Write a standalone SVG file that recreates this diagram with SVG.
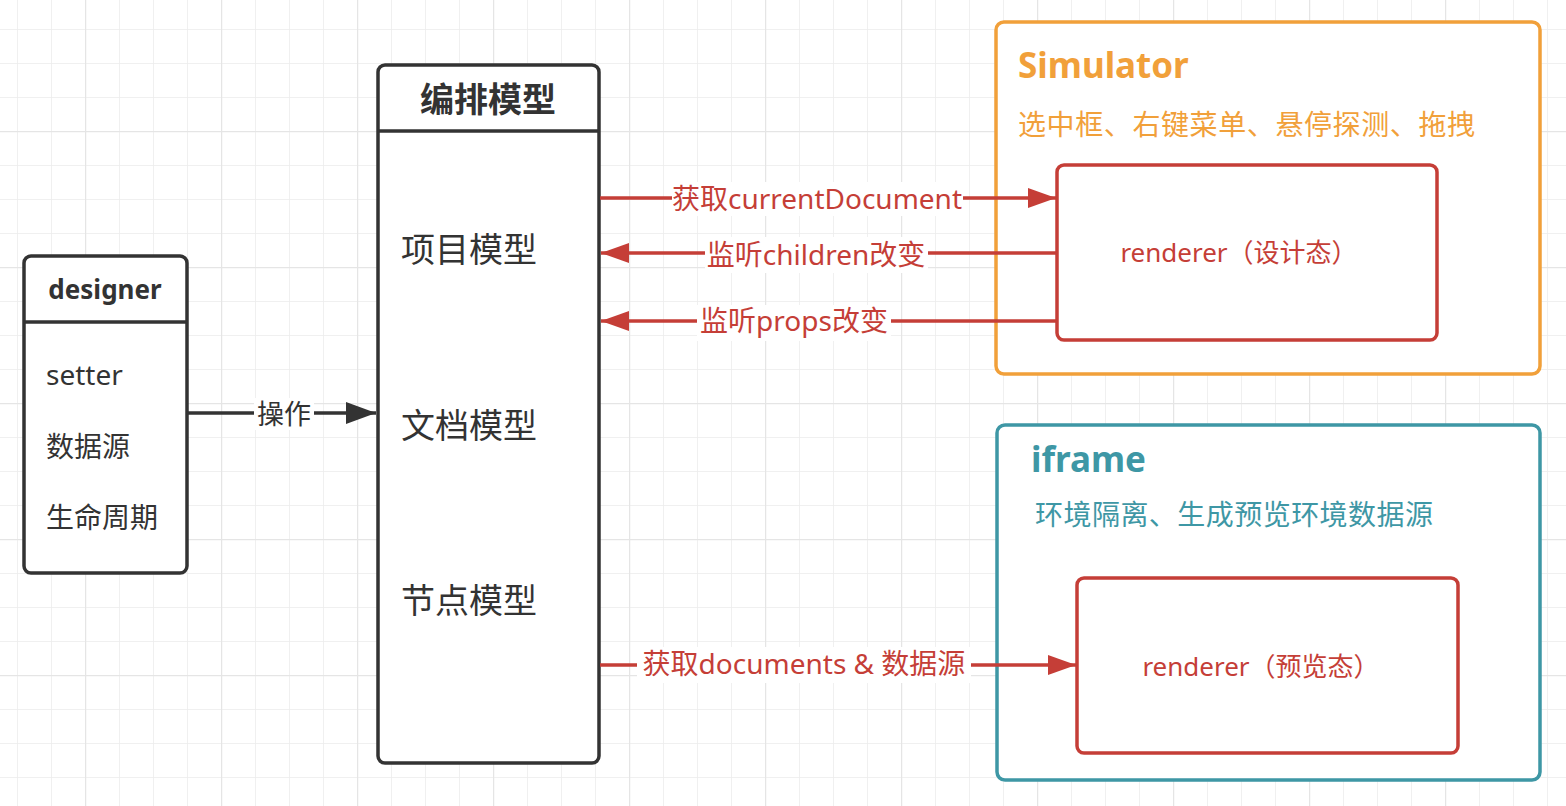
<svg xmlns="http://www.w3.org/2000/svg" width="1566" height="806" viewBox="0 0 1566 806">
<defs>
<pattern id="gmin" width="34" height="34" patternUnits="userSpaceOnUse" x="17" y="29">
<path d="M0 0V34M0 0H34" fill="none" stroke="#ececec" stroke-width="1.5"/>
</pattern>
<pattern id="gmaj" width="136" height="136" patternUnits="userSpaceOnUse" x="85" y="131">
<path d="M0 0V136M0 0H136" fill="none" stroke="#e5e5e5" stroke-width="2.5"/>
</pattern>
<marker id="ar" viewBox="0 0 28 20" refX="28" refY="10" markerWidth="28" markerHeight="20" markerUnits="userSpaceOnUse" orient="auto">
<path d="M0 0L28 10L0 20Z" fill="#c53e37"/>
</marker>
<marker id="ad" viewBox="0 0 30 22" refX="30" refY="11" markerWidth="30" markerHeight="22" markerUnits="userSpaceOnUse" orient="auto">
<path d="M0 0L30 11L0 22Z" fill="#333333"/>
</marker>
</defs>
<style>
.box{fill:#ffffff;stroke:#333333;stroke-width:3.5}
.div{stroke:#333333;stroke-width:3.5}
.t{font-family:"Noto Sans","Noto Sans CJK SC",sans-serif;fill:#333333}
.b{font-weight:bold}
.red{fill:#c53e37}
.rl{stroke:#c53e37;stroke-width:3.5;fill:none}
.lbg{fill:#ffffff}
</style>
<rect width="1566" height="806" fill="#ffffff"/>
<rect width="1566" height="806" fill="url(#gmin)"/>
<rect width="1566" height="806" fill="url(#gmaj)"/>

<g id="designer">
<rect class="box" x="24" y="256" width="163" height="317" rx="7"/>
<line class="div" x1="24" y1="322" x2="187" y2="322"/>
<text class="t b" x="105" y="299" font-size="26" text-anchor="middle">designer</text>
<text class="t" x="46" y="385" font-size="28">setter</text>
<text class="t" x="46" y="457" font-size="28">数据源</text>
<text class="t" x="46" y="528" font-size="28">生命周期</text>
</g>

<g id="model">
<rect class="box" x="378" y="65" width="221" height="698" rx="7"/>
<line class="div" x1="378" y1="131" x2="599" y2="131"/>
<text class="t b" x="488" y="112" font-size="34" text-anchor="middle">编排模型</text>
<text class="t" x="401" y="262" font-size="34">项目模型</text>
<text class="t" x="401" y="438" font-size="34">文档模型</text>
<text class="t" x="401" y="613" font-size="34">节点模型</text>
</g>

<g id="simulator">
<rect x="996" y="22" width="544" height="352" rx="8" fill="#ffffff" stroke="#f1a03a" stroke-width="3.5"/>
<text class="t b" x="1018" y="78" font-size="35" style="fill:#f1a03a">Simulator</text>
<text class="t" x="1018" y="135" font-size="28" textLength="457" style="fill:#f1a03a">选中框、右键菜单、悬停探测、拖拽</text>
</g>

<g id="renderer-design">
<rect x="1057" y="165" width="380" height="175" rx="7" fill="#ffffff" stroke="#c53e37" stroke-width="3.5"/>
<text class="t red" x="1239" y="262" font-size="26" text-anchor="middle">renderer（设计态）</text>
</g>

<g id="iframe">
<rect x="997" y="425" width="543" height="355" rx="8" fill="#ffffff" stroke="#3e97a5" stroke-width="3.5"/>
<text class="t b" x="1031" y="472" font-size="35" style="fill:#3e97a5">iframe</text>
<text class="t" x="1035" y="525" font-size="28" textLength="398" style="fill:#3e97a5">环境隔离、生成预览环境数据源</text>
</g>

<g id="renderer-preview">
<rect x="1077" y="578" width="381" height="175" rx="7" fill="#ffffff" stroke="#c53e37" stroke-width="3.5"/>
<text class="t red" x="1261" y="676" font-size="26" text-anchor="middle">renderer（预览态）</text>
</g>

<g id="connectors">
<line x1="188" y1="413" x2="376" y2="413" stroke="#333333" stroke-width="3.5" marker-end="url(#ad)"/>
<rect class="lbg" x="254" y="398" width="60" height="32"/>
<text class="t" x="284" y="424" font-size="27" text-anchor="middle">操作</text>

<line class="rl" x1="600" y1="198" x2="1056" y2="198" marker-end="url(#ar)"/>
<rect class="lbg" x="672" y="182" width="291" height="34"/>
<text class="t red" x="817" y="209" font-size="28" text-anchor="middle">获取currentDocument</text>

<line class="rl" x1="1057" y1="253" x2="601" y2="253" marker-end="url(#ar)"/>
<rect class="lbg" x="705" y="237" width="223" height="36"/>
<text class="t red" x="816" y="265" font-size="28" text-anchor="middle">监听children改变</text>

<line class="rl" x1="1057" y1="321" x2="601" y2="321" marker-end="url(#ar)"/>
<rect class="lbg" x="697" y="305" width="194" height="36"/>
<text class="t red" x="794" y="331" font-size="28" text-anchor="middle">监听props改变</text>

<line class="rl" x1="600" y1="665" x2="1076" y2="665" marker-end="url(#ar)"/>
<rect class="lbg" x="637" y="647" width="334" height="36"/>
<text class="t red" x="804" y="674" font-size="28" text-anchor="middle">获取documents &amp; 数据源</text>
</g>
</svg>
